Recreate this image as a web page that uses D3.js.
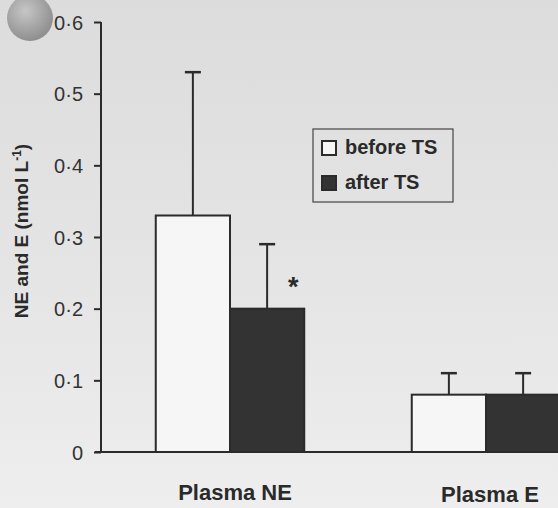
<!DOCTYPE html>
<html>
<head>
<meta charset="utf-8">
<script src="https://cdn.jsdelivr.net/npm/d3@7"></script>
<style>
  body { margin: 0; background: #e9e9e9; }
  svg { display: block; }
  text { font-family: "Liberation Sans", Arial, sans-serif; fill: #2a2a2a; }
</style>
</head>
<body>
<div id="chart"></div>
<script>
// data
var groups = ["Plasma NE", "Plasma E"];
var series = ["before TS", "after TS"];
var means = [[0.33, 0.20], [0.08, 0.08]];
var errs = [[0.20, 0.09], [0.03, 0.03]];
var marks = [[false, true], [false, false]];
var yTicks = [0, 0.1, 0.2, 0.3, 0.4, 0.5, 0.6];
var yTickLabels = ["0", "0·1", "0·2", "0·3", "0·4", "0·5", "0·6"];

(function(){
    var width = 558, height = 508;
    var ink = "#2b2b2b";

    var svg = d3.select("#chart")
        .append("svg")
        .attr("width", width)
        .attr("height", height);

    // scanned-paper background
    var defs = svg.append("defs");
    var bg = defs.append("linearGradient").attr("id", "paper")
        .attr("x1", 0).attr("y1", 0).attr("x2", 0).attr("y2", 1);
    bg.append("stop").attr("offset", "0%").attr("stop-color", "#dcdcdc");
    bg.append("stop").attr("offset", "55%").attr("stop-color", "#e5e5e5");
    bg.append("stop").attr("offset", "100%").attr("stop-color", "#eeeeee");
    svg.append("rect").attr("width", width).attr("height", height).attr("fill", "url(#paper)");

    var ball = defs.append("radialGradient").attr("id", "ball")
        .attr("cx", "40%").attr("cy", "35%").attr("r", "65%");
    ball.append("stop").attr("offset", "0%").attr("stop-color", "#c6c6c6");
    ball.append("stop").attr("offset", "100%").attr("stop-color", "#8f8f8f");
    svg.append("circle").attr("cx", 30).attr("cy", 18).attr("r", 23).attr("fill", "url(#ball)");

    // scales
    var y = d3.scaleLinear().domain([0, 0.6]).range([452, 22]);

    var x0 = d3.scaleBand()
        .domain(groups)
        .range([102, 614])
        .paddingInner(0.42)
        .paddingOuter(0.21);

    var x1 = d3.scaleBand()
        .domain(series)
        .range([0, x0.bandwidth()]);

    // y axis
    var yAxis = svg.append("g")
        .attr("transform", "translate(101,0)")
        .call(d3.axisLeft(y)
            .tickValues(yTicks)
            .tickFormat(function(d, i) { return yTickLabels[i]; })
            .tickSize(7)
            .tickPadding(11));
    yAxis.select(".domain").remove();
    yAxis.selectAll("line").attr("stroke", ink).attr("stroke-width", 2);
    yAxis.selectAll("text")
        .attr("font-size", 20)
        .attr("dy", "0.36em")
        .style("font-family", "'Liberation Sans', Arial, sans-serif")
        .style("fill", "#333");

    svg.append("line")
        .attr("x1", 101).attr("x2", 101)
        .attr("y1", y(0.6)).attr("y2", y(0))
        .attr("stroke", ink).attr("stroke-width", 2);

    // bars
    var g = svg.selectAll(".grp")
        .data(groups)
        .enter()
        .append("g")
        .attr("class", "grp")
        .attr("transform", function(d) { return "translate(" + x0(d) + ",0)"; });

    g.each(function(gName, gi) {
        var sel = d3.select(this);
        series.forEach(function(s, si) {
            var bx = x1(s), bw = x1.bandwidth();
            var v = means[gi][si], e = errs[gi][si];
            var cx = bx + bw / 2;
            // error bar
            sel.append("line")
                .attr("x1", cx).attr("x2", cx)
                .attr("y1", y(v)).attr("y2", y(v + e))
                .attr("stroke", ink).attr("stroke-width", 2);
            sel.append("line")
                .attr("x1", cx - 8).attr("x2", cx + 8)
                .attr("y1", y(v + e)).attr("y2", y(v + e))
                .attr("stroke", ink).attr("stroke-width", 2.5);
            sel.append("rect")
                .attr("x", bx)
                .attr("y", y(v))
                .attr("width", bw)
                .attr("height", y(0) - y(v))
                .attr("fill", si === 0 ? "#f6f6f6" : "#333333")
                .attr("stroke", ink)
                .attr("stroke-width", 2);
            if (marks[gi][si]) {
                sel.append("text")
                    .attr("x", bx + bw - 11)
                    .attr("y", y(v + e / 2) + 20)
                    .attr("text-anchor", "middle")
                    .attr("font-size", 27)
                    .attr("font-weight", "bold")
                    .text("*");
            }
        });
    });

    // baseline
    svg.append("line")
        .attr("x1", 95).attr("x2", width)
        .attr("y1", y(0)).attr("y2", y(0))
        .attr("stroke", ink).attr("stroke-width", 2);

    // category labels
    svg.selectAll(".cat")
        .data(groups)
        .enter()
        .append("text")
        .attr("class", "cat")
        .attr("x", function(d, i) { return x0(d) + x0.bandwidth() / 2 + (i === 0 ? 5 : 4); })
        .attr("y", function(d, i) { return i === 0 ? 500 : 502; })
        .attr("text-anchor", "middle")
        .attr("font-size", 22)
        .attr("font-weight", "bold")
        .text(function(d) { return d; });

    // y-axis title
    var yt = svg.append("text")
        .attr("transform", "translate(28,231) rotate(-90)")
        .attr("text-anchor", "middle")
        .attr("font-size", 19)
        .attr("font-weight", "bold");
    yt.append("tspan").text("NE and E (nmol L");
    yt.append("tspan").attr("dy", -7).attr("font-size", 12).text("-1");
    yt.append("tspan").attr("dy", 7).text(")");

    // legend
    var leg = svg.append("g").attr("transform", "translate(313,129)");
    leg.append("rect")
        .attr("width", 140).attr("height", 73)
        .attr("fill", "none")
        .attr("stroke", "#444").attr("stroke-width", 1.2);
    series.forEach(function(s, i) {
        leg.append("rect")
            .attr("x", 9).attr("y", 12 + i * 35)
            .attr("width", 14).attr("height", 14)
            .attr("fill", i === 0 ? "#f6f6f6" : "#333333")
            .attr("stroke", ink).attr("stroke-width", 2);
        leg.append("text")
            .attr("x", 32).attr("y", 25 + i * 35)
            .attr("font-size", 20)
            .attr("font-weight", "bold")
            .text(s);
    });
})();
</script>
</body>
</html>
